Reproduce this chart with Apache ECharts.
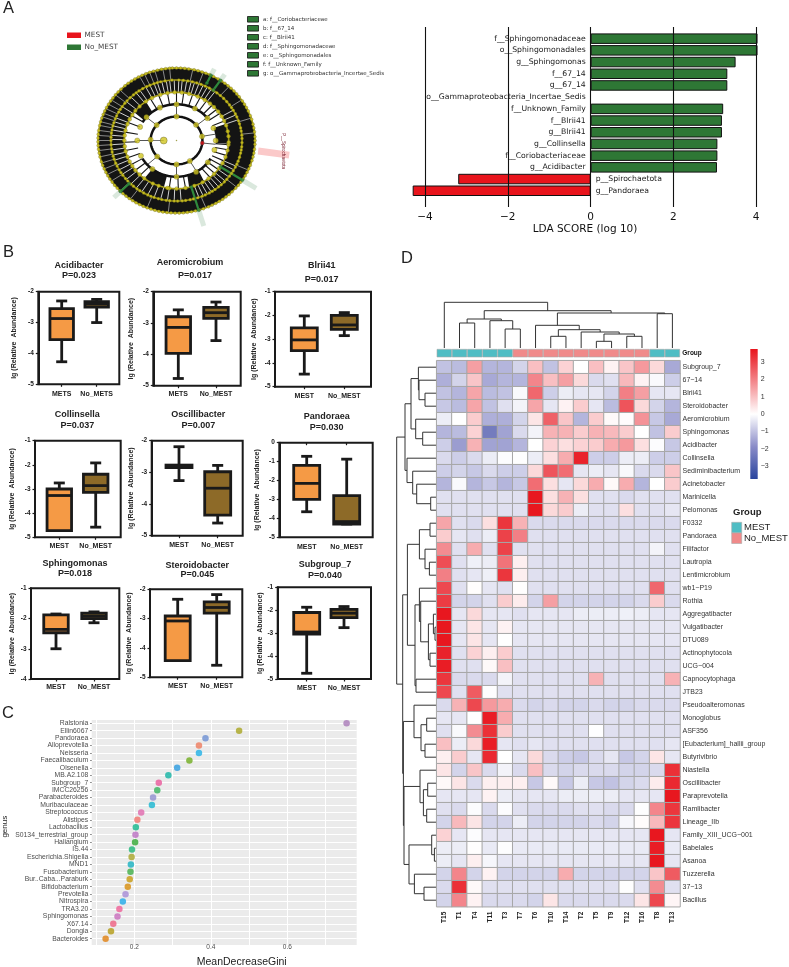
<!DOCTYPE html>
<html>
<head>
<meta charset="utf-8">
<style>html,body{margin:0;padding:0;background:#fff}#c{width:789px;height:967px}</style>
<script src="https://cdn.jsdelivr.net/npm/echarts@6/dist/echarts.min.js"></script>
</head>
<body>
<div id="c"></div>
<script>
/* ---------- Panel A: LDA scores ---------- */
const ldaNames = ['f__Sphingomonadaceae','o__Sphingomonadales','g__Sphingomonas','f__67_14','g__67_14','o__Gammaproteobacteria_Incertae_Sedis','f__Unknown_Family','f__Blrii41','g__Blrii41','g__Collinsella','f__Coriobacteriaceae','g__Acidibacter','p__Spirochaetota','g__Pandoraea'];
const ldaValues = [4.03,4.03,3.5,3.3,3.3,0,3.2,3.17,3.17,3.06,3.06,3.05,-3.2,-4.3];
const cladeGroups = ['MEST','No_MEST'];
const cladeKey = ['a: f__Coriobacteriaceae','b: f__67_14','c: f__Blrii41','d: f__Sphingomonadaceae','e: o__Sphingomonadales','f: f__Unknown_Family','g: o__Gammaproteobacteria_Incertae_Sedis'];
/* cladogram rings (relative radius) and node angles (degrees) */
const ringRadii = [0.33,0.5,0.665,0.835,1];
const ring1Nodes = [90,41,10,178,-59,140,222,-90];
const ring2Nodes = [90,62,115,180,-37,-90,0,205,20,140,158,232,-60,38,-15];
const ring3Nodes = [76,160,180,187,-52,-90,5,100,118,135,148,200,212,225,243,262,-70,-35,-20,-5,18,30,44,57,66,84,92,108,126,142,154,168,174,193,206,218,232,250,-100,-80,-60,-44,-28,-12,-2,11,24,37,50];
const ring4Nodes = [88,80,72,64,56,48,40,33,26,19,12,5,-2,-9,-16,-23,-30,-36,-43,-50,-57,-64,-71,-78,-85,-92,-99,-106,-113,-120,-127,-134,-141,-148,-155,-162,-169,-176,177,170,163,156,149,142,135,128,121,114,107,100,94,84,68,44,-12,-47,-82,-116,-151,173,76,60,52,36,30,23,16,9,2,-6,-20,-26,-33,-40,-54,-60,-67,-75,-89,-96,-103,-110,-124,-131,-138,-145,-158,-165,-172,180,166,159,152,146,139,131,125,117,110,104];
const ring5Nodes = [90,87,84,81,77,74,71,68,65,62,58,55,52,49,46,43,40,37,33,30,27,24,20,17,13,10,7,3,0,-3,-7,-10,-13,-16,-20,-23,-26,-29,-32,-35,-38,-41,-45,-48,-51,-54,-57,-60,-63,-66,-70,-73,-76,-79,-82,-85,-88,-91,-94,-97,-100,-103,-106,-109,-112,-115,-118,-121,-124,-127,-130,-133,-136,-139,-142,-145,-148,-151,-154,-157,-160,-163,-167,-170,-173,-176,-179,178,175,172,168,165,162,159,156,153,150,147,144,141,138,135,131,128,125,122,119,116,113,110,107,104,101,98,95,93];
const whiteOuterSpokes = [176,172,168,165,161,158,154,150,146,141,136,118,114,110,106,100,95,78,70,48,34,18,6,-24,-40,-68,-96,-112,-126,-136,-146,-152,-157,-162,-167,-172,-176,180];
const whiteMidSpokes = [118,114,110,107,103,99,96,92,88,85,81,77,74,70,66,62,58,54,30,25,20,-25,-29,-33,-37,-42,-46,-50,-54,-58,-62,-66,-70,-86,-92,-98,-104,-110,-116,-122,-128,-134,-140,-146,-151,-156,-161,-166,-171,-176,179,175,170,166,162,158,152,146,140,134,128,124];
const blackInnerSpokes = [24,34,40,47,55,63,72,82,90,100,110,120,131,149,158,170,182,192,201,210,218,226,262,272,280,310,317,323,329,335,342,349,355];
const blackInnerWedges = [[-4,20],[126,146],[232,256],[284,304]];
const blackCoreSpokes = [90,180,270,-6,10,39,140,222,-59];
const cladeHighlights = [64,56,-73.6,-33,224.6];
const highlightInner = [0.88,0.84,0.67,0.67,0.85];
const highlightOuter = [1.1,1.1,1.23,1.21,1.12];
const spiroAngle = -8;
const spiroLabel = 'P__Spirochaetota';

/* ---------- Panel B: box plots [min, Q1, median, Q3, max] ---------- */
const boxTitles = ['Acidibacter','Aeromicrobium','Blrii41','Collinsella','Oscillibacter','Pandoraea','Sphingomonas','Steroidobacter','Subgroup_7'];
const boxPValues = ['P=0.023','P=0.017','P=0.017','P=0.037','P=0.007','P=0.030','P=0.018','P=0.045','P=0.040'];
const boxCats = [['METS','No_METS'],['METS','No_MEST'],['MEST','No_MEST'],['MEST','No_MEST'],['MEST','No_MEST'],['MEST','No_MEST'],['MEST','No_MEST'],['MEST','No_MEST'],['MEST','No_MEST']];
const boxYRange = [[-5,-2],[-5,-2],[-5,-1],[-5,-1],[-5,-2],[-5,0],[-4,-1],[-5,-2],[-5,-1]];
const boxStats = [
 [[-4.27,-3.55,-2.87,-2.55,-2.3],[-3.0,-2.5,-2.4,-2.32,-2.25]],
 [[-4.77,-3.97,-3.14,-2.8,-2.58],[-3.56,-2.85,-2.67,-2.5,-2.33]],
 [[-4.47,-3.48,-3.03,-2.52,-2.02],[-2.85,-2.59,-2.4,-2.0,-1.88]],
 [[-4.72,-4.72,-3.27,-3.0,-2.75],[-4.58,-3.14,-2.86,-2.39,-1.92]],
 [[-3.26,-2.85,-2.8,-2.77,-2.19],[-4.6,-4.35,-3.5,-2.98,-2.78]],
 [[-3.65,-3.0,-2.15,-1.2,-0.72],[-4.3,-4.3,-4.17,-2.8,-0.87]],
 [[-3.0,-2.47,-2.36,-1.88,-1.85],[-2.14,-2.0,-1.92,-1.82,-1.78]],
 [[-4.43,-4.43,-3.08,-2.91,-2.34],[-4.59,-2.81,-2.62,-2.43,-2.18]],
 [[-4.75,-3.04,-2.95,-2.1,-1.87],[-2.76,-2.32,-2.13,-1.96,-1.84]]
];
/* ---------- Panel C: MeanDecreaseGini ---------- */
const giniGenera = ['Ralstonia','Ellin6067','Pandoraea','Alloprevotella','Neisseria','Faecalibaculum','Olsenella','MB.A2.108','Subgroup_7','IMCC26256','Parabacteroides','Muribaculaceae','Streptococcus','Alistipes','Lactobacillus','S0134_terrestrial_group','Haliangium','IS.44','Escherichia.Shigella','MND1','Fusobacterium','Bur..Caba...Paraburk','Bifidobacterium','Prevotella','Nitrospira','TRA3.20','Sphingomonas','X67.14','Dongia','Bacteroides'];
const giniValues = [0.755,0.474,0.386,0.369,0.369,0.344,0.312,0.289,0.264,0.26,0.249,0.246,0.218,0.208,0.204,0.203,0.202,0.194,0.193,0.191,0.19,0.188,0.183,0.177,0.17,0.161,0.156,0.145,0.139,0.125];
const giniColors = ['#a97ab8','#a9a520','#6c8ed2','#ee7a5c','#1fb0e6','#70ad1f','#2b9be0','#12b3a3','#e8579a','#36b35e','#8f8fce','#18b5cf','#e068ad','#f2736b','#14b58a','#b96fc0','#32a832','#1eb578','#a7a52a','#17b0c0','#3eae46','#c79a10','#d78c0a','#a58ad4','#1fa9e8','#ee5f96','#c86cbb','#ee5f80','#b39a14','#e07f10'];
/* ---------- Panel D: heatmap ---------- */
const heatCols = ['T15','T1','T4','T11','T3','T7','T6','T10','T14','T2','T5','T9','T12','T16','T8','T13'];
const heatGroup = ['MEST','MEST','MEST','MEST','MEST','No_MEST','No_MEST','No_MEST','No_MEST','No_MEST','No_MEST','No_MEST','No_MEST','No_MEST','MEST','MEST'];
const heatRows = ['Subgroup_7','67\u221214','Blrii41','Steroidobacter','Aeromicrobium','Sphingomonas','Acidibacter','Collinsella','Sediminibacterium','Acinetobacter','Marinicella','Pelomonas','F0332','Pandoraea','Filifactor','Lautropia','Lentimicrobium','wb1\u2212P19','Rothia','Aggregatibacter','Vulgatibacter','DTU089','Actinophytocola','UCG\u2212004','Capnocytophaga','JTB23','Pseudoalteromonas','Monoglobus','ASF356','[Eubacterium]_hallii_group','Butyrivibrio','Niastella','Oscillibacter','Paraprevotella','Ramlibacter','Lineage_IIb','Family_XIII_UCG\u2212001','Babelales','Asanoa','Tuzzerella','37\u221213','Bacillus'];
const heatValues = [
[-1.0,-1.1,1.5,-1.2,-1.2,-0.7,1.0,-1.0,0.7,0,1.0,0.2,0.9,1.6,0.6,-1.4],
[-1.3,-0.7,0.9,-1.4,-1.2,-1.2,1.9,1.0,1.5,0.6,-0.6,-0.5,1.1,0.2,-0.1,-0.8],
[-1.0,-1.2,1.4,-1.1,-1.0,-0.1,2.4,-0.8,-0.3,-0.4,-0.4,-0.7,2.0,1.5,-0.4,-0.4],
[-0.9,-1.1,1.4,-1.0,-0.5,-0.2,1.4,-0.4,0.2,0.8,-0.4,-1.1,2.7,0.6,-0.7,-1.2],
[-0.3,0,0.8,-1.3,-1.3,-0.7,0.4,2.5,0.9,-1.2,0.8,0.1,0.05,1.7,-0.9,-1.4],
[-1.2,-1.1,0.7,-2.3,-1.5,-0.6,-0.2,1.2,1.2,0.8,1.2,1.1,0.8,0,-1.0,0.8],
[-0.8,-1.6,1.2,-1.5,-1.5,-1.2,0,0.7,0.5,0.7,0.8,1.3,1.6,0.5,-0.05,-0.9],
[-0.6,-0.8,-0.6,-0.3,-0.05,-0.02,-0.3,0.5,1.3,3.5,-0.8,-0.8,-0.3,-0.3,-0.8,-0.8],
[-0.8,-0.7,-0.9,-0.6,-0.8,-0.8,0.6,2.7,2.3,-0.4,-0.3,-0.4,-0.1,-0.6,-0.6,0.9],
[-1.2,-0.1,-1.2,-0.9,-1.2,-0.9,2.3,0.5,-0.4,0.6,1.3,0.1,1.3,-1.2,0,0.8],
[-0.5,-0.5,-0.5,-0.5,-0.5,-0.5,3.7,0.5,1.2,0.5,-0.5,-0.5,-0.6,-0.5,-0.5,-0.5],
[-0.5,-0.5,-0.5,-0.5,-0.5,-0.5,3.7,0.6,0.8,-0.3,-0.5,-0.5,0.5,-0.5,-0.5,-0.4],
[1.4,-0.5,-0.6,0.5,3.2,1.2,-0.6,-0.6,-0.6,-0.6,-0.6,-0.6,-0.6,-0.6,-0.6,-0.6],
[0.8,-0.4,-0.5,-0.3,3.0,2.0,-0.5,-0.5,-0.5,-0.5,-0.5,-0.5,-0.5,-0.5,-0.5,-0.5],
[1.8,-0.5,1.3,-0.5,3.0,-0.5,-0.5,-0.5,-0.5,-0.5,-0.5,-0.5,-0.5,-0.5,-0.2,-0.5],
[2.8,-0.5,-0.25,-0.3,2.2,0.25,-0.5,-0.5,-0.5,-0.5,-0.5,-0.5,-0.5,-0.5,-0.5,-0.5],
[2.0,-0.5,-0.4,-0.25,3.2,0.25,-0.5,-0.5,-0.5,-0.5,-0.5,-0.5,-0.5,-0.5,-0.5,-0.5],
[2.9,-0.5,0.03,-0.4,-0.5,0.02,-0.5,-0.5,-0.5,-0.5,-0.5,-0.5,-0.5,-0.5,2.4,-0.5],
[3.1,-0.7,-0.7,-0.5,0.8,0.3,-0.7,1.5,-0.7,-0.7,-0.7,-0.7,-0.7,-0.6,0.8,-0.6],
[3.7,-0.4,0.6,-0.4,-0.4,-0.5,-0.4,-0.4,-0.4,-0.3,-0.3,-0.3,-0.25,-0.3,-0.4,-0.4],
[3.7,-0.4,0.4,-0.4,0.2,-0.4,-0.4,-0.4,-0.4,-0.4,-0.4,-0.4,-0.4,-0.4,-0.4,-0.4],
[3.7,-0.4,0.4,-0.4,0,-0.4,-0.4,-0.4,-0.4,-0.4,-0.4,-0.4,-0.4,-0.4,-0.4,-0.4],
[3.5,-0.5,0.7,0.25,0.8,-0.5,-0.5,-0.5,-0.5,-0.5,-0.5,-0.5,-0.5,-0.5,-0.5,-0.5],
[3.6,-0.5,-0.5,0.1,1.0,-0.5,-0.5,-0.5,-0.5,-0.5,-0.5,-0.5,-0.5,-0.5,-0.5,-0.5],
[3.2,-0.6,-0.6,-0.6,-0.2,-0.5,-0.5,-0.5,-0.5,-0.5,1.2,-0.5,-0.5,-0.5,-0.5,1.2],
[2.9,-0.5,2.6,-0.03,-0.5,-0.5,-0.5,-0.5,-0.5,-0.5,-0.5,-0.5,-0.5,-0.5,-0.5,-0.5],
[-0.6,1.2,2.9,1.6,1.3,-0.6,-0.7,-0.6,-0.7,-0.7,-0.6,-0.7,-0.7,-0.6,-0.6,-0.6],
[-0.4,-0.4,0,3.6,1.3,-0.5,-0.5,-0.5,-0.5,-0.5,-0.5,-0.5,-0.5,-0.5,-0.5,-0.5],
[-0.5,-0.1,1.8,3.3,0.8,-0.5,-0.5,-0.5,-0.5,-0.5,-0.01,-0.5,-0.5,-0.5,-0.5,-0.5],
[1.0,-0.3,0.6,3.6,-0.4,-0.5,-0.4,-0.5,-0.5,-0.5,-0.5,-0.5,-0.5,-0.5,-0.5,-0.4],
[0.25,0.8,-0.4,3.4,0,-0.4,0.6,-0.6,-0.8,-0.9,-0.6,-0.4,-0.9,-0.7,0.4,-0.4],
[0.4,-0.7,0.9,-0.6,-0.2,-0.6,1.0,-0.6,-0.7,-0.6,-0.6,-0.6,-0.7,-0.7,-0.6,3.3],
[0.1,0.4,-0.6,0.25,0.25,0.25,-0.9,0.1,-0.9,-0.3,-0.9,-1.0,-0.7,-0.6,0.3,3.4],
[-0.4,-0.4,-0.4,0.2,-0.3,-0.4,-0.4,-0.4,-0.3,-0.3,-0.3,-0.3,-0.4,-0.4,-0.4,3.7],
[-0.5,-0.6,-0.05,-0.6,-0.05,-0.5,-0.6,-0.6,-0.6,-0.5,-0.5,-0.6,-0.6,-0.03,1.9,3.2],
[-0.7,1.1,0.4,-0.7,-0.7,-0.3,-0.7,-0.7,-0.7,-0.7,-0.6,-0.7,-0.15,0.05,1.1,3.2],
[0.7,-0.4,-0.05,-0.4,-0.4,-0.4,-0.4,-0.4,-0.4,-0.4,-0.4,-0.4,-0.4,-0.4,3.7,-0.4],
[-0.3,-0.3,0.02,-0.35,-0.03,-0.35,-0.35,-0.35,-0.35,-0.35,-0.35,-0.35,-0.35,-0.35,3.6,-0.35],
[-0.3,-0.4,0.25,-0.15,-0.4,-0.4,-0.4,-0.4,-0.4,-0.4,-0.4,-0.4,-0.4,-0.4,3.7,-0.4],
[-0.7,1.9,-0.7,0.2,-0.7,-0.7,-0.7,-0.7,1.3,-0.7,-0.7,-0.7,-0.7,-0.7,0.9,2.6],
[-0.6,3.3,0.1,-0.5,-0.5,-0.5,-0.5,-0.5,-0.5,-0.5,-0.5,-0.5,-0.02,-0.5,1.8,-0.5],
[-0.7,1.9,0.2,-0.6,-0.6,-0.6,-0.7,0.4,-0.6,-0.6,-0.6,-0.6,-0.6,0.4,2.9,0.15]
];
const colorbarRange = [-3.75,3.75];
/* dendrograms: [merge height, left child, right child]; a number is a leaf index */
const colTree = [45.7,0,[37.3,[29,[25,1,2],[27.3,3,[19,4,5]]],[35,[22.7,6,[18.3,[11.7,7,8],[16,9,[14,[6.7,10,11],[11.7,12,13]]]]],[34.3,14,15]]]];
const rowUpper = [31.7,[25.7,[18.3,0,[17.7,1,[11.7,2,3]]],[21,4,[14,5,6]]],[29.7,7,[24,8,[20,9,[6,10,11]]]]];
const rowF = [29.3,[17.3,[6.7,12,13],[11.7,14,[7.3,15,16]]],[21.7,[17.3,17,[16,18,[8.3,[3.3,19,[1.7,20,21]],[6.7,22,23]]]],[20.7,24,25]]];
const rowG = [22.7,26,[15.7,[10,27,28],[11.7,29,30]]];
const rowH = [16.7,31,[13.3,[9,32,33],[10,34,35]]];
const rowI = [27.7,[5,36,[2.3,37,38]],[22.3,39,[12.7,40,41]]];
const rowTree = [40,rowUpper,[34,rowF,[33.3,rowG,[32.7,rowH,rowI]]]];

/* ---------- layout (positions and styles, kept apart from the data) ---------- */
const SANS = '"Liberation Sans", Arial, sans-serif', DEJA = '"DejaVu Sans", sans-serif';
const RED='#e8141c', GREEN='#2e7735', ORANGE='#f59a45', BROWN='#8d6a28', INK='#1a1a1a', TEAL='#4fbdc4', PINK='#f08a8a';
const boxLayout = [
 {x0:38.3,x1:119.3,y0:291.7,y1:384.3,c:[61.7,96.7],tx:79,ty:265.7,px:79,py:276,nx:14,ly:394,w:23.5},
 {x0:153.3,x1:240.7,y0:291.7,y1:385.7,c:[178.3,216],tx:190,ty:262.7,px:195,py:276,nx:131,ly:394,w:24.5},
 {x0:275,x1:371,y0:291.7,y1:386.7,c:[304.3,344.3],tx:321.7,ty:265.3,px:321.7,py:279.3,nx:254,ly:396,w:26},
 {x0:35,x1:120.7,y0:440.7,y1:537.3,c:[59.3,95.7],tx:77.3,ty:414.7,px:77.3,py:426,nx:12,ly:546,w:24.5},
 {x0:151.7,x1:242.7,y0:440.7,y1:535.7,c:[179,217.7],tx:198.3,ty:415,px:198.3,py:425.3,nx:131,ly:545,w:26},
 {x0:279.3,x1:372.7,y0:442.7,y1:537.3,c:[306.7,346.7],tx:326.7,ty:417,px:326.7,py:427.7,nx:257,ly:546.7,w:26},
 {x0:31,x1:119.3,y0:588.3,y1:679,c:[56,94],tx:75,ty:564,px:75,py:573.7,nx:12,ly:687.3,w:24.5},
 {x0:150,x1:242.3,y0:589.3,y1:677.3,c:[177.7,216.7],tx:197.3,ty:565.7,px:197.3,py:575,nx:129,ly:685.7,w:25},
 {x0:277.7,x1:371,y0:587.3,y1:679,c:[306.7,344],tx:325,ty:564.3,px:325,py:576,nx:260,ly:687.7,w:26}
];
const keyRows = [19.3,28.3,37.3,46.3,55.3,64.3,73.3];

const grids=[], xAxes=[], yAxes=[], series=[], graphics=[];
function addAxes(grid,x,y){ grids.push(grid); xAxes.push(Object.assign({gridIndex:grids.length-1},x)); yAxes.push(Object.assign({gridIndex:grids.length-1},y)); return grids.length-1; }
const hidden = {show:false};
function txt(text,x,y,size,opts){ opts=opts||{}; graphics.push({type:'text',x:x,y:y,rotation:opts.rot||0,z:50,silent:true,style:{text:text,font:(opts.bold?'bold ':'')+size+'px '+(opts.fam||SANS),textAlign:opts.align||'center',textVerticalAlign:'middle',fill:opts.fill||INK}}); }
function rect(x,y,w,h,fill,stroke,lw){ graphics.push({type:'rect',z:50,silent:true,shape:{x:x,y:y,width:w,height:h},style:{fill:fill,stroke:stroke||null,lineWidth:lw||0}}); }

/* ----- A: cladogram, in a cartesian grid with polar-style data ----- */
const pol = (r,a)=>[r*Math.cos(a*Math.PI/180), r*Math.sin(a*Math.PI/180)];
const gClade = addAxes({left:58.75,top:31.75,width:235.5,height:217.5},
  {type:'value',min:-1.5,max:1.5,show:false,axisLine:hidden,splitLine:hidden},
  {type:'value',min:-1.5,max:1.5,show:false,axisLine:hidden,splitLine:hidden});
function cladeSeries(name,rows,render){ series.push({type:'custom',name:name,xAxisIndex:gClade,yAxisIndex:gClade,silent:true,clip:false,data:rows,renderItem:render}); }
function annulus(color){ return (p,api)=>{ const r0=api.value(0),r1=api.value(1),a0=api.value(2),a1=api.value(3),pts=[];
   for(let a=a0;a<=a1;a+=3)pts.push(api.coord(pol(r1,a)));
   for(let a=a1;a>=a0;a-=3)pts.push(api.coord(pol(r0,a)));
   return {type:'polygon',shape:{points:pts},style:{fill:color}}; }; }
function spoke(color,width){ return (p,api)=>{ const a=api.value(2),s=api.coord(pol(api.value(0),a)),e=api.coord(pol(api.value(1),a));
   return {type:'line',shape:{x1:s[0],y1:s[1],x2:e[0],y2:e[1]},style:{stroke:color,lineWidth:width}}; }; }
function arc(color,width){ return (p,api)=>{ const r=api.value(0),pts=[]; for(let a=api.value(1);a<=api.value(2);a+=3)pts.push(api.coord(pol(r,a)));
   return {type:'polyline',shape:{points:pts},style:{stroke:color,lineWidth:width,fill:'none'}}; }; }
const spokes=(list,r0,r1)=>list.map(a=>[r0,r1,a]);
cladeSeries('band',[[ringRadii[3],ringRadii[4],-180,180],[ringRadii[2],ringRadii[3],-180,180]].concat(blackInnerWedges.map(w=>[ringRadii[1],ringRadii[2],w[0],w[1]])),annulus('#141414'));
cladeSeries('whiteOuter',spokes(whiteOuterSpokes,ringRadii[3],ringRadii[4]),spoke('#fff',0.5));
cladeSeries('whiteMid',spokes(whiteMidSpokes,ringRadii[2],ringRadii[3]),spoke('#fff',0.8));
cladeSeries('blackInner',spokes(blackInnerSpokes,ringRadii[1],ringRadii[2]),spoke('#141414',1.1));
cladeSeries('core',spokes(blackCoreSpokes,ringRadii[0],ringRadii[1]),spoke('#555',1));
cladeSeries('root',[[0.163,ringRadii[0],180]],spoke('#777',1));
cladeSeries('arcs',[[ringRadii[0],-180,180],[ringRadii[1],36,152],[ringRadii[1],-150,-28]],arc('#111',2.5));
cladeSeries('arcs2',[[ringRadii[2],-180,180],[ringRadii[3],-180,180],[ringRadii[4],-180,180]],arc('#a89e18',1.6));
cladeSeries('pale',cladeHighlights.map((a,i)=>[1,highlightOuter[i],a]),spoke('rgba(70,140,85,0.2)',5));
cladeSeries('spiro',[[1.05,1.45,spiroAngle]],spoke('#fbc9c9',7));
cladeSeries('green',cladeHighlights.map((a,i)=>[highlightInner[i],1,a]),spoke('#2f8a3c',2.2));
[[ring5Nodes,4,3],[ring4Nodes,3,3.2],[ring3Nodes,2,4],[ring2Nodes,1,5.2],[ring1Nodes,0,5.2]].forEach(([list,ri,size])=>{
  series.push({type:'scatter',xAxisIndex:gClade,yAxisIndex:gClade,silent:true,clip:false,symbolSize:size,
    itemStyle:{color:'#cfc41f',borderColor:'#3a3a10',borderWidth:0.3},data:list.map(a=>pol(ringRadii[ri],a))});
});
series.push({type:'scatter',xAxisIndex:gClade,yAxisIndex:gClade,silent:true,clip:false,symbolSize:7,itemStyle:{color:'#cfc41f',borderColor:'#3a3a10',borderWidth:0.4},data:[pol(0.163,180)]});
series.push({type:'scatter',xAxisIndex:gClade,yAxisIndex:gClade,silent:true,clip:false,symbolSize:4,itemStyle:{color:'#e8141c',borderColor:'#333',borderWidth:0.4},data:[pol(ringRadii[0],-6)]});
series.push({type:'scatter',xAxisIndex:gClade,yAxisIndex:gClade,silent:true,clip:false,symbolSize:3.4,itemStyle:{color:'#2f8a3c',borderColor:'#143',borderWidth:0.3},
  data:cladeHighlights.flatMap((a,i)=>[pol(highlightInner[i],a),pol(1,a)])});
series.push({type:'scatter',xAxisIndex:gClade,yAxisIndex:gClade,silent:true,symbolSize:1.5,itemStyle:{color:'#8a8a20'},data:[[0,0]]});
txt(spiroLabel,283,151,4.5,{rot:-Math.PI/2,fill:'#7a2030'});
/* cladogram legends */
rect(67,32.5,14,5.5,RED); rect(67,44.5,14,5.5,GREEN);
txt(cladeGroups[0],84.5,35,7.3,{align:'left',fill:'#444',fam:DEJA}); txt(cladeGroups[1],84.5,47.5,7.3,{align:'left',fill:'#444',fam:DEJA});
cladeKey.forEach((k,i)=>{ rect(247.5,keyRows[i]-2.8,11,5.6,GREEN,'#111',0.8); txt(k,263,keyRows[i],5.5,{align:'left',fill:'#333',fam:DEJA}); });

/* ----- A: LDA bars ----- */
const gBars = addAxes({left:404.4,top:32.8,width:372.6,height:163.8},
  {type:'value',min:-4.5,max:4.5,show:false,splitLine:hidden},
  {type:'category',inverse:true,data:ldaNames,show:false,splitLine:hidden});
series.push({type:'bar',xAxisIndex:gBars,yAxisIndex:gBars,barWidth:10.5,silent:true,z:2,
  data:ldaValues.map((v,i)=>({value:v,itemStyle:{color:v<0?RED:GREEN,borderColor:'#111',borderWidth:v===0?0:1},
    label:{show:true,position:v<0?'right':'left',distance:5,formatter:ldaNames[i],fontFamily:DEJA,fontSize:7.7,color:'#1a1a1a'}}))});
addAxes({left:425,top:27,width:331,height:180},
  {type:'value',min:-4,max:4,interval:2,z:6,axisLine:hidden,axisTick:hidden,
   axisLabel:{fontFamily:DEJA,fontSize:10.5,color:'#111',margin:5,formatter:v=>String(v).replace('-','\u2212')},
   splitLine:{show:true,lineStyle:{color:'#111',width:1.1}}},
  {type:'value',min:0,max:1,show:false,splitLine:hidden});
txt('LDA SCORE (log 10)',585,229,10.5,{fam:DEJA,fill:'#111'});

/* ----- B: box plots ----- */
function boxRender(bw,cap){ return (p,api)=>{
  const cx=api.value(0), g=v=>api.coord([cx,v]), colr=api.value(0)===0?ORANGE:BROWN;
  const lo=g(api.value(1)),q1=g(api.value(2)),med=g(api.value(3)),q3=g(api.value(4)),hi=g(api.value(5)),x=hi[0];
  const ln=(x1,y1,x2,y2)=>({type:'line',shape:{x1,y1,x2,y2},style:{stroke:INK,lineWidth:2.8}});
  return {type:'group',children:[ln(x,hi[1],x,lo[1]),ln(x-cap,hi[1],x+cap,hi[1]),ln(x-cap,lo[1],x+cap,lo[1]),
    {type:'rect',shape:{x:x-bw/2,y:q3[1],width:bw,height:q1[1]-q3[1]},style:{fill:colr,stroke:INK,lineWidth:2.8}},
    ln(x-bw/2,med[1],x+bw/2,med[1])]};
};}
boxStats.forEach((stats,i)=>{
  const L=boxLayout[i], rng=boxYRange[i], d=L.c[1]-L.c[0];
  addAxes({left:L.x0,top:L.y0,width:L.x1-L.x0,height:L.y1-L.y0,show:true,borderColor:INK,borderWidth:2,backgroundColor:'transparent'},
    {type:'value',min:0,max:1,show:false,splitLine:hidden},
    {type:'value',min:rng[0],max:rng[1],interval:1,splitLine:hidden,
     axisLine:{show:true,onZero:false,lineStyle:{color:INK,width:2}},axisTick:{show:true,length:2.5,lineStyle:{color:INK,width:1.2}},
     axisLabel:{fontFamily:SANS,fontSize:6.5,fontWeight:'bold',color:'#222',margin:4.5},
     name:'lg (Relative  Abundance)',nameLocation:'middle',nameGap:L.x0-L.nx-3.5,nameRotate:90,
     nameTextStyle:{fontFamily:SANS,fontSize:7,fontWeight:'bold',color:'#222'}});
  const gi=addAxes({left:L.c[0]-d/2,top:L.y0,width:2*d,height:L.y1-L.y0},
    {type:'category',data:boxCats[i],axisLine:hidden,splitLine:hidden,
     axisTick:{show:true,alignWithLabel:true,length:2.5,lineStyle:{color:INK,width:1.2}},
     axisLabel:{interval:0,fontFamily:SANS,fontSize:7,fontWeight:'bold',color:'#222',margin:L.ly-L.y1-3.5}},
    {type:'value',min:rng[0],max:rng[1],show:false,splitLine:hidden});
  series.push({type:'custom',xAxisIndex:gi,yAxisIndex:gi,silent:true,clip:false,
    data:stats.map((s,k)=>[k].concat(s)),renderItem:boxRender(L.w,5.5)});
  txt(boxTitles[i],L.tx,L.ty,9,{bold:true,fill:'#222'});
  txt(boxPValues[i],L.px,L.py,9,{bold:true,fill:'#222'});
});

/* ----- C: dot plot ----- */
addAxes({left:91.7,top:720,width:265,height:225,show:true,backgroundColor:'#ebebeb',borderWidth:0},
  {type:'value',min:0,max:1,show:false,splitLine:hidden},{type:'value',min:0,max:1,show:false,splitLine:hidden});
addAxes({left:96.05,top:720,width:229.5,height:225},
  {type:'value',min:0.1,max:0.7,interval:0.1,axisLine:hidden,axisTick:hidden,
   axisLabel:{fontFamily:SANS,fontSize:6.5,color:'#4d4d4d',margin:-1,formatter:v=>[0.2,0.4,0.6].some(t=>Math.abs(t-v)<1e-6)?v.toFixed(1):''},
   splitLine:{show:true,lineStyle:{color:'#fff',width:1}}},
  {type:'value',min:0,max:1,show:false,splitLine:hidden});
const gGini = addAxes({left:91.7,top:723.3,width:265,height:215.4},
  {type:'value',min:0.0886,max:0.7814,show:false,splitLine:hidden},
  {type:'value',min:1,max:30,interval:1,inverse:true,axisLine:hidden,
   axisTick:{show:true,length:1.5,lineStyle:{color:'#555',width:0.8}},
   axisLabel:{fontFamily:SANS,fontSize:6.8,color:'#4d4d4d',margin:3.5,formatter:v=>giniGenera[v-1]||''},
   splitLine:{show:true,lineStyle:{color:'#fff',width:1}}});
series.push({type:'scatter',xAxisIndex:gGini,yAxisIndex:gGini,symbolSize:6.5,silent:true,clip:false,
  data:giniValues.map((v,i)=>({value:[v,i+1],itemStyle:{color:giniColors[i]}}))});
txt('MeanDecreaseGini',241.7,962,10.5,{fill:'#222'});
txt('genus',4.5,826.7,8,{rot:Math.PI/2,fill:'#222'});

/* ----- D: dendrograms ----- */
function walk(t,out){ if(typeof t==='number') return {c:t+0.5,h:0};
  const a=walk(t[1],out),b=walk(t[2],out); out.push([a.c,a.h,b.c,b.h,t[0]]); return {c:(a.c+b.c)/2,h:t[0]}; }
function dendro(horizontalLeaves){ return (p,api)=>{
  const ca=api.value(0),ha=api.value(1),cb=api.value(2),hb=api.value(3),h=api.value(4);
  const P=(c,v)=>api.coord(horizontalLeaves?[c,v]:[v,c]);
  return {type:'polyline',shape:{points:[P(ca,ha),P(ca,h),P(cb,h),P(cb,hb)]},style:{stroke:'#333',lineWidth:1,fill:'none'}}; };}
const colSegs=[]; walk(colTree,colSegs); const rowSegs=[]; walk(rowTree,rowSegs);
const gTop=addAxes({left:436.7,top:302,width:243.3,height:46},
  {type:'value',min:0,max:16,show:false,splitLine:hidden},{type:'value',min:0,max:46,show:false,splitLine:hidden});
series.push({type:'custom',xAxisIndex:gTop,yAxisIndex:gTop,silent:true,clip:false,data:colSegs,renderItem:dendro(true)});
const gLeft=addAxes({left:396.7,top:360.7,width:40,height:546},
  {type:'value',min:0,max:40,inverse:true,show:false,splitLine:hidden},{type:'value',min:0,max:42,inverse:true,show:false,splitLine:hidden});
series.push({type:'custom',xAxisIndex:gLeft,yAxisIndex:gLeft,silent:true,clip:false,data:rowSegs,renderItem:dendro(false)});

/* ----- D: annotation bar and heatmap ----- */
const gAnno=addAxes({left:436.7,top:349,width:243.3,height:8.3},
  {type:'category',data:heatCols,show:false,splitLine:hidden},
  {type:'value',min:0,max:1,position:'right',show:false,splitLine:hidden});
series.push({type:'bar',xAxisIndex:gAnno,yAxisIndex:gAnno,barWidth:'100%',silent:true,
  data:heatGroup.map(g=>({value:1,itemStyle:{color:g==='MEST'?TEAL:PINK,borderColor:'#a8a8a8',borderWidth:0.6}}))});
txt('Group',682.3,353.5,6.5,{align:'left',bold:true,fill:'#111'});
const gHeat=addAxes({left:436.7,top:360.7,width:243.3,height:546},
  {type:'category',data:heatCols,axisLine:hidden,axisTick:hidden,splitLine:hidden,splitArea:hidden,
   axisLabel:{interval:0,rotate:90,fontFamily:SANS,fontSize:6.5,fontWeight:'bold',color:'#222',margin:5}},
  {type:'category',data:heatRows,inverse:true,position:'right',axisLine:hidden,axisTick:hidden,splitLine:hidden,splitArea:hidden,
   axisLabel:{interval:0,fontFamily:SANS,fontSize:7,color:'#333',margin:2.5,align:'left'}});
const heatIdx=series.length;
series.push({type:'heatmap',xAxisIndex:gHeat,yAxisIndex:gHeat,silent:true,
  itemStyle:{borderColor:'#a6a6a6',borderWidth:1},
  data:heatValues.flatMap((row,r)=>row.map((v,c)=>[c,r,v]))});

/* ----- D: colour bar ----- */
const barColors=['#2a459e','#8a8cc8','#ffffff','#f3878c','#e8141c'];
const gCb=addAxes({left:750.3,top:344.7,width:7.4,height:138.7},
  {type:'value',min:0,max:1,show:false,splitLine:hidden},
  {type:'value',min:-4,max:4,interval:1,position:'right',axisLine:hidden,axisTick:hidden,splitLine:hidden,
   axisLabel:{fontFamily:SANS,fontSize:7,color:'#333',margin:3,formatter:v=>Math.abs(v)===4?'':String(v).replace('-','\u2212')}});
series.push({type:'custom',xAxisIndex:gCb,yAxisIndex:gCb,silent:true,data:[colorbarRange],renderItem:(p,api)=>{
  const a=api.coord([0,api.value(1)]),b=api.coord([1,api.value(0)]);
  return {type:'rect',shape:{x:a[0],y:a[1],width:b[0]-a[0],height:b[1]-a[1]},style:{
    fill:new echarts.graphic.LinearGradient(0,1,0,0,barColors.map((c,i)=>({offset:i/(barColors.length-1),color:c})))}};
}});
txt('Group',733,512.3,9.5,{align:'left',bold:true,fill:'#222'});
rect(731.7,522.3,10,10.5,TEAL,'#a8a8a8',0.6); rect(731.7,533,10,10.5,PINK,'#a8a8a8',0.6);
txt('MEST',744,527.2,9.5,{align:'left',fill:'#222'}); txt('No_MEST',744,538.5,9.5,{align:'left',fill:'#222'});

/* panel letters */
[['A',3,8],['B',3,252.5],['C',2,713],['D',401,258]].forEach(([t,x,y])=>txt(t,x,y,16.5,{align:'left',fill:'#222'}));

const chart=echarts.init(document.getElementById('c'),null,{renderer:'canvas'});
chart.setOption({animation:false,backgroundColor:'#fff',grid:grids,xAxis:xAxes,yAxis:yAxes,series:series,graphic:{elements:graphics},
  visualMap:{show:false,seriesIndex:heatIdx,dimension:2,min:colorbarRange[0],max:colorbarRange[1],inRange:{color:barColors}}});
</script>
</body>
</html>
